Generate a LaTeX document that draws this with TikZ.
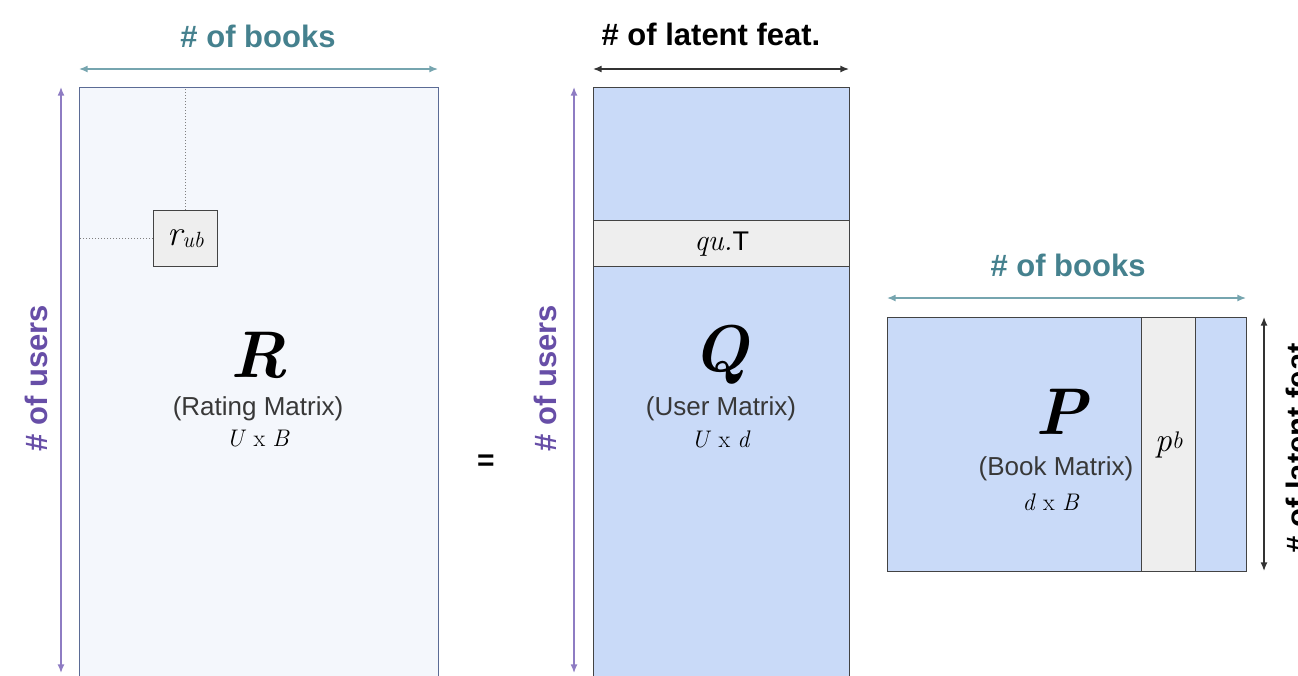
\documentclass[tikz,border=0pt]{standalone}
\usepackage{fontspec}
\setsansfont{Liberation Sans}
\usetikzlibrary{arrows.meta, positioning, calc}
\definecolor{bookTeal}{HTML}{45818E}
\definecolor{bookTealLight}{HTML}{76A5AF}
\definecolor{userPurple}{HTML}{674EA7}
\definecolor{userPurpleLight}{HTML}{8E7CC3}
\definecolor{ratingFill}{HTML}{F4F7FC}
\definecolor{ratingEdge}{HTML}{5B6B95}
\definecolor{latentFill}{HTML}{C9DAF8}
\definecolor{sliceFill}{HTML}{EEEEEE}
\definecolor{edgeGray}{HTML}{434343}

\begin{document}
\begin{tikzpicture}[
    x=1pt, y=-1pt,
    matrixbox/.style={rectangle, draw=edgeGray, line width=1.3pt, anchor=north west, inner sep=0pt, fill=latentFill},
    slicebox/.style={matrixbox, fill=sliceFill},
    dimarrow/.style={{Latex[length=3mm,width=2.4mm]}-{Latex[length=3mm,width=2.4mm]}, line width=1.3pt},
    dimlabel/.style={font=\sffamily\bfseries\fontsize{31}{31}\selectfont},
    bigletter/.style={font=\bfseries\itshape\fontsize{66}{66}\selectfont},
    namelabel/.style={font=\sffamily\fontsize{26}{26}\selectfont, text=black!78},
    sizelabel/.style={font=\fontsize{24}{24}\selectfont}
]
\useasboundingbox (0,0) rectangle (1298,675);
\clip (0,0) rectangle (1298,675);

\node[matrixbox, fill=ratingFill, draw=ratingEdge, minimum width=359pt, minimum height=620pt] (rating) at (79,87) {};
\node[matrixbox, minimum width=256pt, minimum height=620pt] (user) at (593,87) {};
\node[slicebox, minimum width=256pt, minimum height=46pt] (urow) at (593,220)
    {{\fontsize{30}{30}\selectfont\itshape qu.}{\sffamily\fontsize{27}{27}\selectfont T}};
\node[matrixbox, minimum width=359pt, minimum height=254pt] (book) at (887,317) {};
\node[slicebox, minimum width=54pt, minimum height=254pt] (bcol) at (1141,317)
    {{\fontsize{34}{34}\selectfont\itshape p}\raisebox{3pt}{\fontsize{24}{24}\selectfont\itshape b}};
\node[slicebox, minimum width=64pt, minimum height=56pt] (cell) at (153,210)
    {{\fontsize{36}{36}\selectfont\itshape r}\raisebox{-2pt}{\fontsize{22}{22}\selectfont\itshape ub}};

\draw[dotted, gray, line width=1pt] (cell.north) -- (cell.north |- rating.north);
\draw[dotted, gray, line width=1pt] (cell.west) -- (cell.west -| rating.west);

\node[bigletter] (rletter) at (259,355) {R};
\node[namelabel] (rname) at (258,409) {(Rating Matrix)};
\node[sizelabel] (rsize) at (258,439) {\textit{U} x \textit{B}};

\node[bigletter] (uletter) at (721,355) {Q};
\node[namelabel] (uname) at (721,409) {(User Matrix)};
\node[sizelabel] (usize) at (721,439) {\textit{U} x \textit{d}};

\node[bigletter] (bletter) at (1061,412) {P};
\node[namelabel] (bname) at (1056,469) {(Book Matrix)};
\node[sizelabel] (bsize) at (1051,502) {\textit{d} x \textit{B}};

\node[font=\sffamily\bfseries\fontsize{30}{30}\selectfont] (equals) at (486,463) {=};

\coordinate (rbooksL) at (79,69);
\coordinate (rbooksR) at (438,69);
\draw[dimarrow, bookTealLight] (rbooksL) -- (rbooksR);
\node[dimlabel, text=bookTeal] (rbooks) at (258,36) {\# of books};

\coordinate (rusersT) at (61,87);
\coordinate (rusersB) at (61,673);
\draw[dimarrow, userPurpleLight] (rusersT) -- (rusersB);
\node[dimlabel, text=userPurple, rotate=90] (rusers) at (36,378) {\# of users};

\coordinate (ulatentL) at (593,69);
\coordinate (ulatentR) at (849,69);
\draw[dimarrow, black!80] (ulatentL) -- (ulatentR);
\node[dimlabel] (ulatent) at (711,34) {\# of latent feat.};

\coordinate (uusersT) at (574,87);
\coordinate (uusersB) at (574,673);
\draw[dimarrow, userPurpleLight] (uusersT) -- (uusersB);
\node[dimlabel, text=userPurple, rotate=90] (uusers) at (545,378) {\# of users};

\coordinate (bbooksL) at (887,298);
\coordinate (bbooksR) at (1246,298);
\draw[dimarrow, bookTealLight] (bbooksL) -- (bbooksR);
\node[dimlabel, text=bookTeal] (bbooks) at (1068,265) {\# of books};

\coordinate (blatentT) at (1264,317);
\coordinate (blatentB) at (1264,571);
\draw[dimarrow, black!80] (blatentT) -- (blatentB);
\node[dimlabel, rotate=90] (blatent) at (1297,444) {\# of latent feat.};

\end{tikzpicture}
\end{document}
